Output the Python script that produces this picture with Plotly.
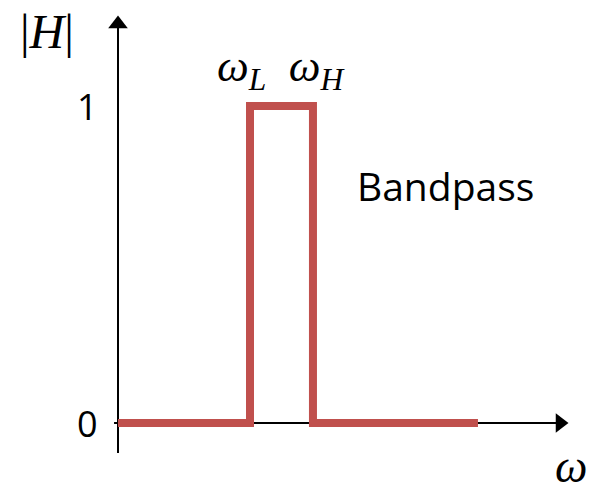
import plotly.graph_objects as go

# ---- data ----
w_L = 1.0
w_H = 1.477
w_end = 2.727
freq = [0.0, w_L, w_L, w_H, w_H, w_end]
mag = [0, 0, 1, 1, 0, 0]
ytick_vals = [0, 1]
ytick_text = ["0", "1"]

RED = "#C0504D"
W, H = 589, 487

# axis ranges chosen so the plot fills the canvas
x_range = [-118 / 132, (W - 118) / 132]
y_range = [-(H - 423) / 317, 423 / 317]

x_axis_end = (560 - 118) / 132
y_axis_end = (423 - 24) / 317

fig = go.Figure()
# axes
fig.add_trace(go.Scatter(x=[-0.03, x_axis_end], y=[0, 0], mode="lines",
                         line=dict(color="black", width=2),
                         hoverinfo="skip", showlegend=False))
fig.add_trace(go.Scatter(x=[0, 0], y=[-0.095, y_axis_end], mode="lines",
                         line=dict(color="black", width=2),
                         hoverinfo="skip", showlegend=False))
# arrow heads
fig.add_trace(go.Scatter(x=[x_axis_end], y=[0], mode="markers",
                         marker=dict(symbol="triangle-right", size=17, color="black"),
                         hoverinfo="skip", showlegend=False))
fig.add_trace(go.Scatter(x=[0], y=[y_axis_end], mode="markers",
                         marker=dict(symbol="triangle-up", size=17, color="black"),
                         hoverinfo="skip", showlegend=False))
# response
fig.add_trace(go.Scatter(x=freq, y=mag, mode="lines",
                         line=dict(color=RED, width=8),
                         hoverinfo="skip", showlegend=False))

# tick labels
for v, t in zip(ytick_vals, ytick_text):
    fig.add_annotation(x=87 / W, y=v, xref="paper", yref="y", text=t, showarrow=False,
                       font=dict(family="Open Sans", size=36, color="black"),
                       xanchor="center", yanchor="middle")

serif = "Liberation Serif"
fig.add_annotation(x=47 / W, y=1 - 31 / H, xref="paper", yref="paper",
                   text="|<i>H</i>|", showarrow=False,
                   font=dict(family=serif, size=48, color="black"),
                   xanchor="center", yanchor="middle")
fig.add_annotation(x=(w_L + w_H) / 2, y=1 - 69 / H, xref="x", yref="paper",
                   text="<i>ω</i><sub><i>L</i></sub>  <i>ω</i><sub><i>H</i></sub>",
                   showarrow=False, font=dict(family=serif, size=45, color="black"),
                   xanchor="center", yanchor="middle")
fig.add_annotation(x=445 / W, y=1 - 185 / H, xref="paper", yref="paper",
                   text="Bandpass", showarrow=False,
                   font=dict(family="Open Sans", size=39, color="black"),
                   xanchor="center", yanchor="middle")
fig.add_annotation(x=1, y=1 - 466 / H, xref="paper", yref="paper",
                   text="<i>ω</i>", showarrow=False,
                   font=dict(family=serif, size=46, color="black"),
                   xanchor="right", yanchor="middle")

fig.update_layout(width=W, height=H, margin=dict(l=0, r=0, t=0, b=0),
                  paper_bgcolor="white", plot_bgcolor="white",
                  xaxis=dict(range=x_range, visible=False, fixedrange=True),
                  yaxis=dict(range=y_range, visible=False, fixedrange=True))

fig.write_html("out.html", config={"displayModeBar": False},
               post_script="document.body.style.margin='0';")
